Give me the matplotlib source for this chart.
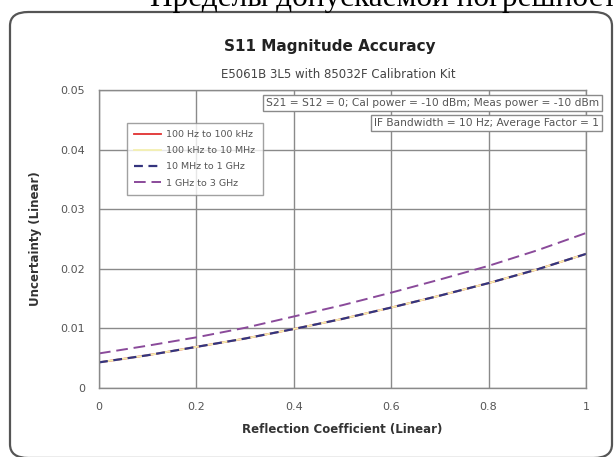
import matplotlib
matplotlib.use("Agg")
import matplotlib.pyplot as plt
from matplotlib.patches import FancyBboxPatch

# Datos
reflexion = [0.0, 0.1, 0.2, 0.3, 0.4, 0.5, 0.6, 0.7, 0.8, 0.9, 1.0]
incert_baja = [0.0043, 0.0055, 0.0069, 0.0083, 0.0099, 0.0116, 0.0135, 0.0155, 0.0176, 0.0199, 0.0225]
incert_alta = [0.0058, 0.0071, 0.0085, 0.0101, 0.0120, 0.0139, 0.0160, 0.0182, 0.0205, 0.0231, 0.0260]

etiquetas = ["100 Hz to 100 kHz", "100 kHz to 10 MHz", "10 MHz to 1 GHz", "1 GHz to 3 GHz"]
xticks = [0, 0.2, 0.4, 0.6, 0.8, 1]
xtick_labels = ["0", "0.2", "0.4", "0.6", "0.8", "1"]
yticks = [0, 0.01, 0.02, 0.03, 0.04, 0.05]
ytick_labels = ["0", "0.01", "0.02", "0.03", "0.04", "0.05"]

W, H = 614, 457
fig = plt.figure(figsize=(W / 100, H / 100), dpi=100)
fig.patch.set_facecolor("white")

def fx(px):
    return px / W

def fy(py):
    return 1 - py / H

# marco redondeado de la pagina
marco = FancyBboxPatch((fx(10), fy(458)), fx(602), 446 / H,
                       boxstyle="round,pad=0,rounding_size=0.03",
                       transform=fig.transFigure, facecolor="white",
                       edgecolor="#555555", linewidth=1.6, clip_on=False,
                       zorder=-5)
fig.patches.append(marco)

# texto del documento cortado arriba
fig.text(fx(150), fy(6), "Пределы допускаемой погрешности",
         family="Liberation Serif", fontsize=22.5, color="black",
         ha="left", va="baseline")

ax = fig.add_axes([fx(99), fy(388), fx(586) - fx(99), (388 - 90) / H])
ax.set_facecolor("none")

gris = "#8a8a8a"
ax.plot(reflexion, incert_baja, color="#e03030", linewidth=1.3, label=etiquetas[0])
ax.plot(reflexion, incert_baja, color="#f4f0b0", linewidth=1.3, label=etiquetas[1])
ax.plot(reflexion, incert_baja, color="#34347e", linewidth=1.6,
        linestyle=(0, (4, 2.5)), label=etiquetas[2])
ax.plot(reflexion, incert_alta, color="#8a4a9a", linewidth=1.4,
        linestyle=(0, (6, 3)), label=etiquetas[3])

ax.set_xlim(0, 1)
ax.set_ylim(0, 0.05)
ax.set_xticks(xticks)
ax.set_xticklabels(xtick_labels)
ax.set_yticks(yticks)
ax.set_yticklabels(ytick_labels)
ax.grid(True, color=gris, linewidth=1.0)
ax.set_axisbelow(True)
ax.tick_params(length=0, labelsize=8, labelcolor="#555555", pad=10)
for lado in ax.spines.values():
    lado.set_color(gris)
    lado.set_linewidth(1.0)

ax.set_xlabel("Reflection Coefficient (Linear)", fontsize=8.5, fontweight="bold",
              color="#333333", labelpad=8)
ax.set_ylabel("Uncertainty (Linear)", fontsize=8.5, fontweight="bold",
              color="#333333", labelpad=13)

leyenda = ax.legend(loc="upper left", bbox_to_anchor=(fx(122), fy(118)),
                    bbox_transform=fig.transFigure, fontsize=6.8,
                    frameon=True, fancybox=False, edgecolor=gris,
                    handlelength=2.8, borderpad=0.8, labelspacing=0.75,
                    handletextpad=0.6)
leyenda.get_frame().set_linewidth(1.0)
for t in leyenda.get_texts():
    t.set_color("#555555")

fig.text(fx(330), fy(46), "S11 Magnitude Accuracy", fontsize=11,
         fontweight="bold", ha="center", va="center", color="#222222")
fig.text(fx(338), fy(75), "E5061B 3L5 with 85032F Calibration Kit", fontsize=8.5,
         ha="center", va="center", color="#444444")

caja = dict(boxstyle="square,pad=0.25", facecolor="white", edgecolor=gris, linewidth=1.0)
fig.text(fx(599), fy(103), "S21 = S12 = 0; Cal power = -10 dBm; Meas power = -10 dBm",
         fontsize=7.7, ha="right", va="center", color="#555555", bbox=caja)
fig.text(fx(599), fy(123), "IF Bandwidth = 10 Hz; Average Factor = 1",
         fontsize=7.7, ha="right", va="center", color="#555555", bbox=caja)

fig.savefig("out.png", dpi=100, facecolor="white")
